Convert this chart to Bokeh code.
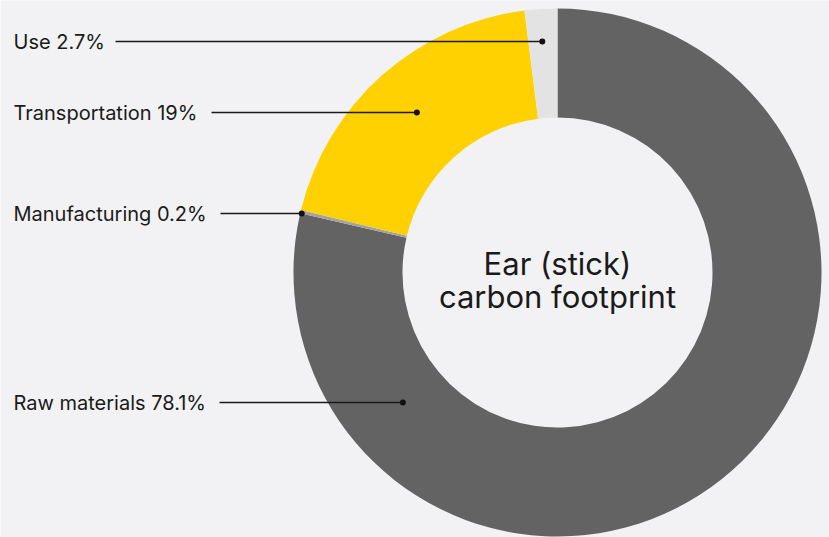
import math
from bokeh.plotting import figure
from bokeh.models import ColumnDataSource
from bokeh.core.properties import value
from bokeh.embed import file_html
from bokeh.resources import INLINE

# Data (slice sizes as drawn in the reference; labels as printed)
categories = ["Raw materials", "Manufacturing", "Transportation", "Use"]
shares = [78.6, 0.2, 19.2, 2.0]
colors = ["#636363", "#a3a3a3", "#ffd100", "#e3e3e3"]
label_texts = ["Raw materials 78.1%", "Manufacturing 0.2%", "Transportation 19%", "Use 2.7%"]
center_title = ["Ear (stick)", "carbon footprint"]

# Layout (pixel-like units, donut centre at 0,0)
BG = "#f2f2f4"
R_OUT = 264
R_IN = 155
label_y = [-130, 59, 160, 231]
dot_r = [202, 262.5, 213, 231.5]
line_start_x = [-338, -337, -346, -442]
label_x = -544

W, H = 829, 537
p = figure(width=W, height=H, x_range=(-557, W - 557), y_range=(-(H - 272), 272),
           output_backend="svg", toolbar_location=None, min_border=0)
p.background_fill_color = BG
p.border_fill_color = BG
p.outline_line_color = None
p.axis.visible = False
p.grid.visible = False

total = sum(shares)
starts, ends = [], []
cum = 0.0
for s in shares:
    starts.append(math.pi / 2 - 2 * math.pi * cum / total)
    cum += s
    ends.append(math.pi / 2 - 2 * math.pi * cum / total)

src = ColumnDataSource(dict(start=starts, end=ends, color=colors))
p.annular_wedge(x=0, y=0, inner_radius=R_IN, outer_radius=R_OUT,
                start_angle="start", end_angle="end", direction="clock",
                fill_color="color", line_color=None, source=src)

# leader lines and dots
dot_x = [-math.sqrt(max(r * r - y * y, 0)) for r, y in zip(dot_r, label_y)]
p.segment(x0=line_start_x, y0=label_y, x1=dot_x, y1=label_y,
          line_color="#1a1a1a", line_width=1.4)
p.scatter(x=dot_x, y=label_y, size=6, fill_color="#111111", line_color=None)

p.text(x=[label_x] * len(label_texts), y=label_y, text=label_texts,
       text_font=value("Inter"), text_font_size="20px", text_color="#1a1a1a",
       text_align="left", text_baseline="middle")

p.text(x=[0, 0], y=[9, -24], text=center_title,
       text_font=value("Inter"), text_font_size="31px", text_color="#1a1a1a",
       text_align="center", text_baseline="middle")

open("out.html", "w").write(file_html(p, INLINE))
